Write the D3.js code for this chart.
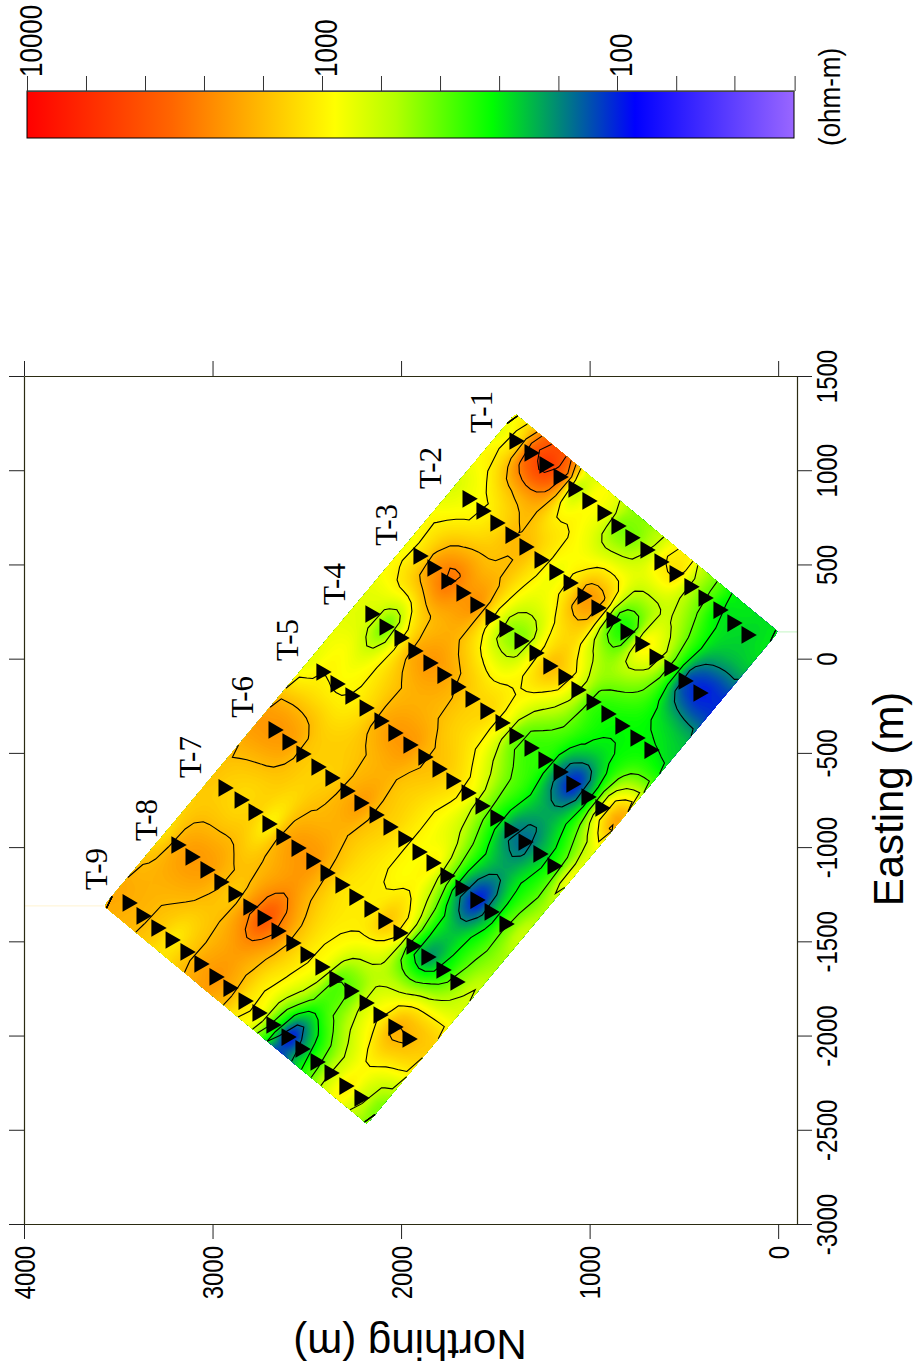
<!DOCTYPE html>
<html>
<head>
<meta charset="utf-8">
<script src="https://cdn.jsdelivr.net/npm/d3@7"></script>
<style>
    html, body { margin: 0; padding: 0; background: #fff; }
    svg { display: block; }
</style>
</head>
<body>
<script>
// station positions per transect, metres
var northT1 = [1385, 1305, 1226, 1151, 1072, 998, 918, 844, 770, 690, 616, 536, 457, 382, 303, 229, 154];
var eastT1 = [1155, 1092, 1028, 964, 901, 837, 773, 704, 641, 577, 513, 450, 381, 322, 258, 189, 126];
var northT2 = [1634, 1560, 1486, 1406, 1332, 1252, 1173, 1098, 1024, 950, 870, 796, 717, 642, 563, 488, 409];
var eastT2 = [848, 784, 720, 656, 593, 524, 460, 402, 333, 269, 205, 142, 78, 9, -49, -118, -182];
var northT3 = [1894, 1820, 1746, 1666, 1592, 1512, 1438, 1358, 1279, 1205, 1125, 1056, 976, 897, 823, 743, 669];
var eastT3 = [545, 481, 412, 349, 285, 221, 158, 94, 30, -39, -97, -166, -230, -293, -357, -421, -485];
var northT4 = [2149, 2074, 1995, 1921, 1841, 1767, 1693, 1618, 1539, 1459, 1385, 1305, 1231, 1151, 1083, 1003, 929];
var eastT4 = [237, 168, 110, 41, -23, -87, -150, -214, -278, -341, -410, -474, -538, -601, -665, -734, -792];
var northT5 = [2409, 2334, 2255, 2180, 2101, 2027, 1947, 1868, 1793, 1719, 1639, 1565, 1486, 1411, 1337, 1258, 1183];
var eastT5 = [-71, -134, -198, -262, -331, -394, -458, -522, -585, -649, -713, -782, -845, -909, -973, -1036, -1100];
var northT6 = [2663, 2589, 2515, 2435, 2361, 2281, 2207, 2127, 2053, 1974, 1899, 1825, 1751, 1671, 1592, 1517, 1438];
var eastT6 = [-378, -442, -506, -575, -633, -702, -766, -829, -893, -957, -1026, -1084, -1153, -1217, -1281, -1344, -1408];
var northT7 = [2928, 2843, 2769, 2695, 2621, 2541, 2462, 2387, 2308, 2234, 2154, 2080, 2000, 1931, 1852, 1772, 1698];
var eastT7 = [-686, -750, -814, -877, -946, -1005, -1074, -1137, -1201, -1265, -1328, -1392, -1456, -1525, -1583, -1652, -1716];
var northT8 = [3178, 3103, 3024, 2950, 2875, 2796, 2721, 2647, 2568, 2493, 2414, 2340, 2260, 2180, 2106, 2027, 1952];
var eastT8 = [-989, -1052, -1121, -1185, -1249, -1318, -1376, -1445, -1509, -1572, -1636, -1700, -1764, -1827, -1891, -1955, -2018];
var northT9 = [3437, 3363, 3284, 3209, 3130, 3056, 2976, 2902, 2822, 2748, 2674, 2594, 2520, 2440, 2366, 2287, 2207];
var eastT9 = [-1296, -1365, -1429, -1493, -1556, -1620, -1689, -1748, -1817, -1880, -1944, -2008, -2071, -2140, -2199, -2268, -2331];

// log10 resistivity: model edge, 17 stations, model edge
var rhoT1 = [2.88, 3.02, 3.62, 3.78, 3.55, 2.72, 2.97, 2.92, 2.62, 2.62, 2.76, 3.05, 3.1, 2.76, 2.58, 2.36, 2.36, 2.34, 2.38];
var rhoT2 = [2.85, 2.92, 2.98, 3.08, 3.22, 3.22, 3.05, 2.88, 3.03, 3.38, 3.32, 2.45, 2.42, 3.05, 2.92, 2.55, 2.02, 1.96, 2.0];
var rhoT3 = [2.9, 3.08, 3.38, 3.5, 3.35, 3.38, 2.98, 2.65, 2.62, 3.0, 3.25, 3.12, 2.8, 2.5, 2.45, 2.42, 2.42, 2.4, 2.35];
var rhoT4 = [2.88, 2.85, 2.55, 3.0, 3.3, 3.36, 3.3, 3.2, 3.12, 3.12, 2.98, 2.58, 2.5, 2.5, 2.12, 1.92, 2.28, 3.05, 3.35];
var rhoT5 = [2.88, 3.0, 2.96, 2.98, 3.08, 3.28, 3.35, 3.35, 3.22, 3.18, 3.1, 2.98, 2.68, 2.42, 2.14, 2.1, 2.28, 2.5, 3.0];
var rhoT6 = [3.33, 3.35, 3.32, 3.15, 3.12, 3.12, 3.25, 3.35, 3.18, 3.12, 3.02, 2.95, 3.03, 2.65, 2.15, 1.9, 2.28, 2.62, 2.85];
var rhoT7 = [3.18, 3.12, 3.08, 3.12, 2.95, 3.28, 3.35, 3.35, 3.2, 3.05, 3.02, 3.02, 3.22, 3.05, 2.35, 2.15, 2.4, 2.68, 2.85];
var rhoT8 = [3.05, 3.28, 3.34, 3.32, 3.2, 3.12, 3.38, 3.65, 3.4, 3.15, 3.02, 2.95, 2.55, 2.6, 2.85, 3.0, 3.28, 3.22, 3.15];
var rhoT9 = [3.28, 3.25, 3.22, 3.15, 3.0, 3.15, 3.3, 3.36, 3.26, 3.05, 2.98, 2.48, 1.88, 2.25, 2.55, 2.85, 3.05, 2.82, 2.62];

// model corners: T-1 start, T-1 end, T-9 end, T-9 start
var cornerNorth = [1395, 0, 2202, 3575];
var cornerEast = [1299, 142, -2464, -1312];

var transectNames = ['T-1', 'T-2', 'T-3', 'T-4', 'T-5', 'T-6', 'T-7', 'T-8', 'T-9'];
var nameNorth = [1570, 1841, 2074, 2350, 2600, 2838, 3114, 3347, 3612];
var nameEast = [1309, 1012, 710, 396, 99, -203, -522, -856, -1116];

var northTicks = [4000, 3000, 2000, 1000, 0];
var eastTicks = [1500, 1000, 500, 0, -500, -1000, -1500, -2000, -2500, -3000];
var legendTicks = [10000, 6310, 3981, 2512, 1585, 1000, 631, 398, 251, 158, 100, 63, 40, 25];
var legendLabels = [10000, 1000, 100];
var contourLevels = [2.0, 2.2, 2.4, 2.6, 2.8, 3.0, 3.2, 3.4, 3.6];

var colorLogs = [4, 3.508, 2.956, 2.749, 2.424, 1.939, 1.4];
var colorValues = ['#ff0000', '#ff6600', '#ffff00', '#b3ff00', '#00ff00', '#0000ff', '#9966ff'];

var norths = [northT1, northT2, northT3, northT4, northT5, northT6, northT7, northT8, northT9];
var easts = [eastT1, eastT2, eastT3, eastT4, eastT5, eastT6, eastT7, eastT8, eastT9];
var rhos = [rhoT1, rhoT2, rhoT3, rhoT4, rhoT5, rhoT6, rhoT7, rhoT8, rhoT9];

var width = 913, height = 1371;
var tickFont = 'Liberation Sans, Arial, sans-serif';

var x = d3.scaleLinear().domain([4000, -100]).range([24, 797]);
var y = d3.scaleLinear().domain([1500, -3000]).range([376, 1224]);
var color = d3.scaleLinear().domain(colorLogs).range(colorValues);

var svg = d3.select('body').append('svg')
    .attr('width', width)
    .attr('height', height);

function translate(a, b) {
    return 'translate(' + a + ',' + b + ')';
}

// every table value with its place on the map, edge nodes one step past the line ends
var nodes = [];
rhos.forEach(function (row, t) {
    var north = norths[t], east = easts[t], last = north.length - 1;
    row.forEach(function (value, k) {
        var s = k - 1, n, e;
        if (s < 0) {
            n = 2 * north[0] - north[1];
            e = 2 * east[0] - east[1];
        } else if (s > last) {
            n = 2 * north[last] - north[last - 1];
            e = 2 * east[last] - east[last - 1];
        } else {
            n = north[s];
            e = east[s];
        }
        nodes.push({ n: n, e: e, v: value });
    });
});

function catmull(p0, p1, p2, p3, t) {
    return 0.5 * (2 * p1 + (p2 - p0) * t + (2 * p0 - 5 * p1 + 4 * p2 - p3) * t * t + (3 * p1 - p0 - 3 * p2 + p3) * t * t * t);
}

function clampIndex(i, n) {
    return Math.max(0, Math.min(n - 1, i));
}

function tableAt(u, v) {
    var cols = rhos[0].length;
    var c = u * (cols - 1);
    var r = Math.max(0, Math.min(rhos.length - 1, -0.27 + v * 8.59));
    var c0 = Math.floor(c), r0 = Math.floor(r);
    var rows = [];
    for (var k = -1; k <= 2; k++) {
        var row = rhos[clampIndex(r0 + k, rhos.length)];
        rows.push(catmull(row[clampIndex(c0 - 1, cols)], row[clampIndex(c0, cols)],
            row[clampIndex(c0 + 1, cols)], row[clampIndex(c0 + 2, cols)], c - c0));
    }
    return catmull(rows[0], rows[1], rows[2], rows[3], r - r0);
}

function mapAt(u, v) {
    return [
        cornerNorth[0] + (cornerNorth[1] - cornerNorth[0]) * u + (cornerNorth[3] - cornerNorth[0]) * v,
        cornerEast[0] + (cornerEast[1] - cornerEast[0]) * u + (cornerEast[3] - cornerEast[0]) * v
    ];
}

// distance weighting keeps highs and lows round around their stations
function nearAt(u, v) {
    var p = mapAt(u, v), sum = 0, total = 0;
    nodes.forEach(function (node) {
        var dn = node.n - p[0], de = node.e - p[1];
        var w = 1 / Math.pow(dn * dn + de * de + 3600, 1.5);
        sum += w * node.v;
        total += w;
    });
    return sum / total;
}

function fieldAt(u, v) {
    return 0.65 * nearAt(u, v) + 0.35 * tableAt(u, v);
}

function sampleField(nx, ny) {
    var values = new Array(nx * ny);
    for (var l = 0; l < ny; l++) {
        for (var k = 0; k < nx; k++) {
            values[l * nx + k] = fieldAt((k + 0.5) / nx, (l + 0.5) / ny);
        }
    }
    return values;
}

function toScreen(u, v) {
    var p = mapAt(u, v);
    return [x(p[0]), y(p[1])];
}

// filled field, as many nested contour bands
var fillNx = 144, fillNy = 69;
var fillStep = 0.012;
var fillLevels = d3.range(1.7, 3.95, fillStep);
var fillBands = d3.contours().size([fillNx, fillNy]).thresholds(fillLevels)(sampleField(fillNx, fillNy));
var fillPath = d3.geoPath(d3.geoTransform({
    point: function (a, b) {
        var p = toScreen(a / fillNx, b / fillNy);
        this.stream.point(p[0], p[1]);
    }
}));

svg.append('g').classed('field', true)
    .selectAll('path')
    .data(fillBands)
    .enter().append('path')
    .attr('d', fillPath)
    .attr('fill', function (d) { return color(d.value + fillStep / 2); });

// tips of the model run a thin line out to the frame
svg.append('g').classed('tails', true)
    .selectAll('line')
    .data([[-100, 142, '#c4f5c4'], [4000, -1312, '#fff3d0']])
    .enter().append('line')
    .attr('x1', function (d) { return x(d[0]); })
    .attr('x2', function (d, i) { return x(cornerNorth[i === 0 ? 1 : 3]); })
    .attr('y1', function (d) { return y(d[1]); })
    .attr('y2', function (d) { return y(d[1]); })
    .attr('stroke', function (d) { return d[2]; });

// contour lines on a coarser grid, open where they meet the model edge
var lineNx = 54, lineNy = 26;
var lineField = sampleField(lineNx, lineNy);
var lineContours = d3.contours().size([lineNx, lineNy]).thresholds(contourLevels)(lineField);

function onBorder(a, b) {
    var e = 1e-6;
    return (a[0] < e && b[0] < e) || (a[1] < e && b[1] < e) ||
        (a[0] > lineNx - e && b[0] > lineNx - e) || (a[1] > lineNy - e && b[1] > lineNy - e);
}

function contourSegments(contour) {
    var lines = [];
    contour.coordinates.forEach(function (polygon) {
        polygon.forEach(function (ring) {
            var current = [];
            for (var i = 0; i < ring.length; i++) {
                if (i > 0 && onBorder(ring[i - 1], ring[i])) {
                    if (current.length > 1) lines.push(current);
                    current = [];
                }
                current.push(ring[i]);
            }
            if (current.length > 1) lines.push(current);
        });
    });
    return lines;
}

var contourLine = d3.line()
    .x(function (d) { return toScreen(d[0] / lineNx, d[1] / lineNy)[0]; })
    .y(function (d) { return toScreen(d[0] / lineNx, d[1] / lineNy)[1]; });

svg.append('g').classed('contours', true)
    .selectAll('path')
    .data(d3.merge(lineContours.map(contourSegments)))
    .enter().append('path')
    .attr('d', contourLine)
    .attr('fill', 'none')
    .attr('stroke', '#000')
    .attr('stroke-width', 1.1);

// stations
var stations = d3.merge(norths.map(function (line, t) {
    return line.map(function (north, s) { return { north: north, east: easts[t][s] }; });
}));

svg.append('g').classed('stations', true)
    .selectAll('path')
    .data(stations)
    .enter().append('path')
    .attr('d', d3.symbol(d3.symbolTriangle, 135))
    .attr('transform', function (d) { return translate(x(d.north) - 2.5, y(d.east)) + ' rotate(90)'; })
    .attr('fill', '#000');

svg.append('g').classed('names', true)
    .selectAll('text')
    .data(transectNames)
    .enter().append('text')
    .attr('transform', function (d, i) { return translate(x(nameNorth[i]), y(nameEast[i])) + ' rotate(-90)'; })
    .attr('dy', '0.33em')
    .attr('text-anchor', 'middle')
    .attr('font-family', 'Liberation Serif, serif')
    .attr('font-size', 31)
    .text(function (d) { return d; });

// frame and axes
function styleAxis(g) {
    g.selectAll('.domain').attr('stroke', '#2b2b12').attr('stroke-width', 1.2);
    g.selectAll('.tick line').attr('stroke', '#222');
}

function tickText(g, dx, dy, anchor, size) {
    g.selectAll('.tick text')
        .attr('x', 0).attr('y', 0).attr('dy', null)
        .attr('text-anchor', anchor)
        .attr('font-family', tickFont)
        .attr('font-size', size)
        .attr('fill', '#000')
        .attr('transform', translate(dx, dy) + ' rotate(-90) scale(1,1.2)');
}

function plainNumber(d) {
    return String(d);
}

svg.append('g')
    .attr('transform', translate(0, 1224))
    .call(d3.axisBottom(x).tickValues(northTicks).tickSize(15).tickSizeOuter(0).tickFormat(plainNumber))
    .call(styleAxis)
    .call(tickText, 10, 22, 'end', 24);

svg.append('g')
    .attr('transform', translate(0, 376))
    .call(d3.axisTop(x).tickValues(northTicks).tickSize(15).tickSizeOuter(0).tickFormat(''))
    .call(styleAxis);

svg.append('g')
    .attr('transform', translate(24, 0))
    .call(d3.axisLeft(y).tickValues(eastTicks).tickSize(15).tickSizeOuter(0).tickFormat(''))
    .call(styleAxis);

svg.append('g')
    .attr('transform', translate(797, 0))
    .call(d3.axisRight(y).tickValues(eastTicks).tickSize(15).tickSizeOuter(0).tickFormat(plainNumber))
    .call(styleAxis)
    .call(tickText, 40, 0, 'middle', 24);

svg.append('text')
    .attr('transform', translate(410, 1330) + ' rotate(180)')
    .attr('text-anchor', 'middle')
    .attr('font-family', tickFont)
    .attr('font-size', 42)
    .text('Northing (m)');

svg.append('text')
    .attr('transform', translate(903, 799) + ' rotate(-90)')
    .attr('text-anchor', 'middle')
    .attr('font-family', tickFont)
    .attr('font-size', 42)
    .text('Easting (m)');

// colour bar
var legendX = d3.scaleLog().domain([10000, 25.12]).range([27, 794]);
var legendY = [91, 138];

var gradient = svg.append('defs').append('linearGradient')
    .attr('id', 'rhoGradient')
    .attr('x1', '0%').attr('x2', '100%');

gradient.selectAll('stop')
    .data(colorLogs)
    .enter().append('stop')
    .attr('offset', function (d) { return (4 - d) / 2.6 * 100 + '%'; })
    .attr('stop-color', function (d) { return color(d); });

svg.append('rect')
    .attr('x', legendX(10000))
    .attr('y', legendY[0])
    .attr('width', legendX(25.12) - legendX(10000))
    .attr('height', legendY[1] - legendY[0])
    .attr('fill', 'url(#rhoGradient)')
    .attr('stroke', '#000');

svg.append('g')
    .attr('transform', translate(0, legendY[0]))
    .call(d3.axisTop(legendX).tickValues(legendTicks).tickSize(15).tickSizeOuter(0)
        .tickFormat(function (d) { return legendLabels.indexOf(d) >= 0 ? d : ''; }))
    .call(function (g) {
        g.selectAll('.domain').attr('stroke', '#444');
        g.selectAll('.tick line').attr('stroke', '#333');
    })
    .call(tickText, 14, -14, 'start', 26);

svg.append('text')
    .attr('transform', translate(840, 146) + ' rotate(-90) scale(1,1.15)')
    .attr('font-family', tickFont)
    .attr('font-size', 26)
    .text('(ohm-m)');
</script>
</body>
</html>
